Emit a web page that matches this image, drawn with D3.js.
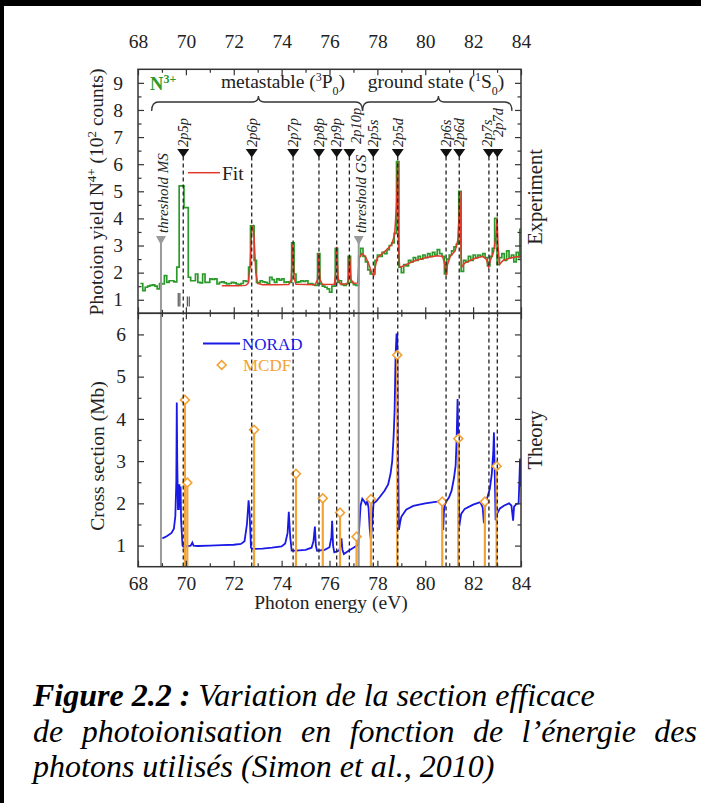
<!DOCTYPE html>
<html><head><meta charset="utf-8">
<script src="https://cdn.jsdelivr.net/npm/d3@7"></script>
<style>
html,body{margin:0;padding:0;background:#fff;}
svg{display:block;}
text{font-family:"Liberation Serif","Times New Roman",serif;}
</style></head><body>
<svg id="chart" width="701" height="803"></svg>
<script>
// ---------------- DATA ----------------
const xTickValues = [68,70,72,74,76,78,80,82,84];
const yTicksExperiment = [1,2,3,4,5,6,7,8,9];
const yTicksTheory = [1,2,3,4,5,6];

const resonanceLabels = ["2p5p","2p6p","2p7p","2p8p","2p9p","2p10p","2p5s","2p5d","2p6s","2p6d","2p7s","2p7d"];
const resonanceEnergy = [69.89,72.75,74.48,75.56,76.30,76.83,77.83,78.85,80.87,81.42,82.66,83.01];
const thresholdLabels = ["threshold MS","threshold GS"];
const thresholdEnergy = [68.96,77.22];

// experiment (step histogram): [energy, counts/100]
const experimentData = [
[68.1,1.60],[68.2,1.34],[68.3,1.46],[68.4,1.50],[68.5,1.53],[68.6,1.55],[68.7,1.50],[68.8,1.40],[68.9,1.60],[69.0,1.58],
[69.1,1.89],[69.2,1.64],[69.3,1.70],[69.4,1.70],[69.5,1.66],[69.62,2.20],[69.72,5.20],[69.92,4.40],[70.1,1.83],[70.2,1.70],
[70.3,1.70],[70.4,1.95],[70.5,1.64],[70.6,1.62],[70.7,1.95],[70.8,1.64],[70.9,1.64],[71.0,1.77],[71.1,1.75],[71.2,1.77],
[71.3,1.58],[71.4,1.64],[71.5,1.66],[71.6,1.62],[71.7,1.58],[71.8,1.60],[71.9,1.64],[72.0,1.62],[72.1,1.58],[72.2,1.56],
[72.3,1.60],[72.4,1.70],[72.5,1.68],[72.62,2.20],[72.7,3.73],[72.85,2.45],[72.95,1.64],[73.0,1.62],[73.1,1.70],[73.2,1.66],
[73.3,1.64],[73.4,1.60],[73.5,1.83],[73.6,1.74],[73.7,1.64],[73.8,1.77],[73.9,1.72],[74.0,1.77],[74.1,1.64],[74.2,1.66],
[74.3,1.64],[74.42,3.10],[74.52,1.95],[74.6,1.64],[74.7,1.66],[74.8,1.70],[74.9,1.68],[75.0,1.70],[75.1,1.58],[75.2,1.60],
[75.3,1.56],[75.4,1.53],[75.5,2.70],[75.6,1.58],[75.7,1.50],[75.8,1.46],[75.9,1.40],[76.0,1.28],[76.1,1.50],[76.24,2.90],
[76.34,1.64],[76.4,1.70],[76.5,1.56],[76.6,1.53],[76.7,1.60],[76.78,2.60],[76.88,1.64],[77.0,1.56],[77.1,1.53],[77.22,2.60],
[77.3,2.90],[77.4,2.60],[77.5,2.40],[77.6,2.10],[77.7,1.95],[77.8,1.95],[77.9,2.45],[78.0,2.65],[78.1,2.60],[78.2,2.75],
[78.3,2.70],[78.4,2.85],[78.5,3.00],[78.6,3.10],[78.7,3.45],[78.8,6.10],[78.9,2.20],[79.0,2.00],[79.1,2.30],[79.2,2.25],
[79.3,2.45],[79.4,2.40],[79.5,2.55],[79.6,2.45],[79.7,2.60],[79.8,2.50],[79.9,2.65],[80.0,2.55],[80.1,2.70],[80.2,2.60],
[80.3,2.75],[80.4,2.65],[80.5,2.85],[80.6,2.70],[80.7,2.60],[80.8,1.95],[80.9,2.50],[81.0,2.65],[81.1,2.80],[81.2,2.95],
[81.3,3.05],[81.4,5.00],[81.5,2.05],[81.6,2.45],[81.7,2.40],[81.8,2.60],[81.9,2.45],[82.0,2.65],[82.1,2.55],[82.2,2.65],
[82.3,2.60],[82.4,2.70],[82.5,2.55],[82.6,2.25],[82.7,2.60],[82.8,2.90],[82.9,4.00],[83.0,2.30],[83.1,2.55],[83.2,2.70],
[83.3,2.45],[83.4,2.80],[83.5,2.55],[83.6,2.65],[83.7,2.40],[83.8,2.75],[83.9,2.55],[83.95,3.60],[84.0,3.60]
];

// fit curve
const fitData = [
[71.5,1.52],[71.8,1.52],[72.2,1.52],[72.5,1.53],[72.6,1.60],[72.68,2.20],[72.75,3.60],[72.8,3.70],[72.85,3.30],[72.92,2.00],
[73.0,1.60],[73.2,1.55],[73.8,1.55],[74.3,1.56],[74.4,1.75],[74.46,3.05],[74.52,1.80],[74.6,1.57],[75.4,1.55],[75.5,1.75],
[75.55,2.70],[75.6,1.75],[75.7,1.56],[76.2,1.57],[76.25,1.90],[76.3,2.95],[76.36,1.80],[76.45,1.58],[76.75,1.58],[76.8,1.90],
[76.84,2.60],[76.9,1.75],[77.0,1.60],[77.18,1.62],[77.24,2.55],[77.35,2.70],[77.5,2.60],[77.65,2.30],[77.78,1.95],[77.85,1.90],
[77.92,2.25],[78.0,2.55],[78.2,2.70],[78.4,2.85],[78.6,3.05],[78.72,3.40],[78.8,4.50],[78.85,6.10],[78.88,3.00],[78.93,2.20],
[79.1,2.25],[79.5,2.42],[80.0,2.55],[80.5,2.62],[80.72,2.60],[80.82,2.30],[80.87,1.90],[80.93,2.30],[81.05,2.60],[81.25,2.80],
[81.36,3.20],[81.42,4.20],[81.45,5.00],[81.48,3.20],[81.52,2.20],[81.65,2.35],[82.0,2.50],[82.4,2.60],[82.55,2.50],[82.65,2.20],
[82.72,2.45],[82.85,2.75],[82.95,3.30],[83.0,4.00],[83.04,3.00],[83.1,2.30],[83.25,2.45],[83.6,2.55],[84.0,2.60]
];

// NORAD theory (Mb)
const noradData = [
[69.02,1.17],[69.2,1.22],[69.4,1.30],[69.5,1.40],[69.56,1.70],[69.6,2.50],[69.62,4.39],[69.64,3.00],[69.67,1.84],[69.69,2.45],
[69.71,1.84],[69.73,2.45],[69.75,1.90],[69.78,2.40],[69.8,1.60],[69.86,1.00],[69.9,0.97],[70.0,0.98],[70.2,1.00],[70.27,1.07],
[70.32,1.00],[70.5,0.99],[71.0,1.00],[71.5,1.01],[72.0,1.02],[72.3,1.04],[72.45,1.10],[72.55,1.50],[72.62,2.07],[72.66,1.80],
[72.72,0.95],[72.8,0.92],[73.2,0.93],[73.6,0.95],[74.0,0.98],[74.15,1.05],[74.25,1.30],[74.3,1.80],[74.36,1.20],[74.42,0.88],
[74.6,0.88],[75.0,0.90],[75.25,0.95],[75.33,1.10],[75.39,1.45],[75.43,1.00],[75.48,0.88],[75.8,0.90],[76.0,0.96],[76.08,1.20],
[76.11,1.59],[76.15,1.00],[76.2,0.84],[76.4,0.88],[76.47,1.00],[76.5,1.17],[76.54,0.90],[76.6,0.80],[76.8,0.88],[77.0,0.95],
[77.2,1.02],[77.25,1.50],[77.3,1.95],[77.37,2.11],[77.45,2.05],[77.52,1.98],[77.58,2.05],[77.63,1.90],[77.68,1.40],[77.73,1.13],
[77.78,1.50],[77.84,2.00],[77.95,2.05],[78.1,2.15],[78.3,2.30],[78.45,2.45],[78.55,2.70],[78.62,3.00],[78.68,3.60],[78.72,4.20],
[78.76,5.50],[78.8,6.00],[78.83,6.00],[78.87,3.00],[78.9,1.37],[78.95,1.55],[79.0,1.68],[79.2,1.85],[79.5,1.94],[80.0,2.00],
[80.5,2.04],[80.68,2.06],[80.72,1.90],[80.75,1.37],[80.78,1.80],[80.83,2.00],[81.0,2.15],[81.1,2.30],[81.2,2.60],[81.27,2.90],
[81.31,3.50],[81.35,4.47],[81.38,3.50],[81.42,1.45],[81.5,1.75],[81.65,1.87],[82.0,1.97],[82.3,2.03],[82.4,1.90],[82.45,1.53],
[82.5,1.90],[82.55,2.05],[82.7,2.35],[82.78,2.70],[82.84,3.20],[82.87,3.68],[82.9,2.80],[82.94,1.60],[83.0,1.75],[83.12,1.88],
[83.3,1.95],[83.5,2.00],[83.6,1.95],[83.67,1.59],[83.71,1.92],[83.8,1.98],[83.9,2.00],[83.93,2.50],[83.96,3.06],[83.98,2.60],[84.0,2.40]
];

// MCDF theory (stems)
const mcdfEnergy = [69.96,70.06,72.85,74.60,75.72,76.44,77.13,77.73,78.83,80.71,81.38,82.49,82.98];
const mcdfValue  = [4.45,2.49,3.74,2.70,2.12,1.78,1.21,2.10,5.51,2.04,3.53,2.04,2.88];

// short marker lines near 2p5p
const markerEnergy = [69.68,69.75,70.06,70.14];
const markerTop = [1.25,1.25,1.12,1.12];

// ---------------- LAYOUT ----------------
const W=701,H=803;
const X0=138, X1=521, YT=69.3, YM=313.3, YB=566.7;
const FONT='"Liberation Serif","Times New Roman",serif';
const C = {green:"#2b9a2b", red:"#e03a2a", blue:"#1a1ae6", orange:"#f3a236", gray:"#9a9a9a", axis:"#333", text:"#222"};

const svg = d3.select("#chart");
const x = d3.scaleLinear().domain([68,84]).range([X0,X1]);
const yU = d3.scaleLinear().domain([0.5,9.5]).range([YM,YT]);
const yL = d3.scaleLinear().domain([0.5,6.5]).range([YB,YM]);
const intFmt = d3.format("d");

// page frame (top and left edges)
svg.append("rect").attr("x",0).attr("y",0).attr("width",W).attr("height",6).attr("fill","#000");
svg.append("rect").attr("x",0).attr("y",0).attr("width",4).attr("height",H).attr("fill","#000");

// clip paths
const defs = svg.append("defs");
defs.append("clipPath").attr("id","clipU").append("rect").attr("x",X0).attr("y",YT).attr("width",X1-X0).attr("height",YM-YT);
defs.append("clipPath").attr("id","clipL").append("rect").attr("x",X0).attr("y",YM).attr("width",X1-X0).attr("height",YB-YM);

// ---- data layers: upper ----
const gU = svg.append("g").attr("clip-path","url(#clipU)");
gU.append("path").datum(experimentData)
  .attr("d", d3.line().x(d=>x(d[0])).y(d=>yU(d[1])).curve(d3.curveStepAfter))
  .attr("fill","none").attr("stroke",C.green).attr("stroke-width",1.7);
gU.append("path").datum(fitData)
  .attr("d", d3.line().x(d=>x(d[0])).y(d=>yU(d[1])))
  .attr("fill","none").attr("stroke",C.red).attr("stroke-width",1.5);
gU.selectAll("line.mk").data(markerEnergy).enter().append("line")
  .attr("x1",d=>x(d)).attr("x2",d=>x(d)).attr("y1",(d,i)=>yU(markerTop[i])).attr("y2",yU(0.75))
  .attr("stroke","#333").attr("stroke-width",1);

// ---- data layers: lower ----
const gL = svg.append("g").attr("clip-path","url(#clipL)");
gL.append("path").datum(noradData)
  .attr("d", d3.line().x(d=>x(d[0])).y(d=>yL(d[1])))
  .attr("fill","none").attr("stroke",C.blue).attr("stroke-width",1.8);
gL.selectAll("line.stem").data(mcdfEnergy).enter().append("line")
  .attr("x1",d=>x(d)).attr("x2",d=>x(d)).attr("y1",yL(0.5)).attr("y2",(d,i)=>yL(mcdfValue[i]))
  .attr("stroke",C.orange).attr("stroke-width",2.2);

// threshold gray lines
const triU=149, triD=156.5;
thresholdEnergy.forEach((e,i)=>{
  svg.append("line").attr("x1",x(e)).attr("x2",x(e)).attr("y1",240).attr("y2",YB)
    .attr("stroke",C.gray).attr("stroke-width",2);
  svg.append("path").attr("d",`M${x(e)-5},236L${x(e)+5},236L${x(e)},245Z`).attr("fill",C.gray);
});

// dashed resonance lines
resonanceEnergy.forEach(e=>{
  svg.append("line").attr("x1",x(e)).attr("x2",x(e)).attr("y1",triD).attr("y2",YB)
    .attr("stroke","#222").attr("stroke-width",1.3).attr("stroke-dasharray","4,3");
  svg.append("path").attr("d",`M${x(e)-6},${triU}L${x(e)+6},${triU}L${x(e)},${triD+1}Z`).attr("fill","#111");
});

// MCDF diamonds
gL.selectAll("path.dia").data(mcdfEnergy).enter().append("path")
  .attr("d", d3.symbol().type(d3.symbolSquare).size(40))
  .attr("transform",(d,i)=>`translate(${x(d)},${yL(mcdfValue[i])}) rotate(45)`)
  .attr("fill","#fff").attr("stroke",C.orange).attr("stroke-width",1.6);

// ---- frames ----
[[YT,YM],[YM,YB]].forEach(([a,b])=>{
  svg.append("rect").attr("x",X0).attr("y",a).attr("width",X1-X0).attr("height",b-a)
    .attr("fill","none").attr("stroke",C.axis).attr("stroke-width",1.5);
});

// ---- axes ----
function addAxis(axisFn, scale, transform, vals, len, showLabels, pad, size){
  const a = axisFn(scale).tickValues(vals).tickSize(-len).tickPadding(pad);
  a.tickFormat(showLabels ? intFmt : ()=>"");
  const g = svg.append("g").attr("transform",transform).call(a);
  g.select(".domain").remove();
  g.selectAll("line").attr("stroke",C.axis).attr("stroke-width",1.2);
  g.selectAll("text").attr("font-family",FONT).attr("font-size",size||19.5).attr("fill",C.text);
  return g;
}
const xMinor = d3.range(69,84,2);
// top of upper panel
addAxis(d3.axisTop, x, `translate(0,${YT})`, xTickValues, 6, true, 21);
addAxis(d3.axisTop, x, `translate(0,${YT})`, xMinor, 3.5, false, 0);
// bottom of upper panel
addAxis(d3.axisBottom, x, `translate(0,${YM})`, xTickValues, 6, false, 0);
addAxis(d3.axisBottom, x, `translate(0,${YM})`, xMinor, 3.5, false, 0);
// top of lower panel
addAxis(d3.axisTop, x, `translate(0,${YM})`, xTickValues, 6, false, 0);
addAxis(d3.axisTop, x, `translate(0,${YM})`, xMinor, 3.5, false, 0);
// bottom of lower panel
addAxis(d3.axisBottom, x, `translate(0,${YB})`, xTickValues, 6, true, 9);
addAxis(d3.axisBottom, x, `translate(0,${YB})`, xMinor, 3.5, false, 0);
// y axes upper
addAxis(d3.axisLeft, yU, `translate(${X0},0)`, yTicksExperiment, 6, true, 15);
addAxis(d3.axisLeft, yU, `translate(${X0},0)`, d3.range(1.5,9.5,1), 3.5, false, 0);
addAxis(d3.axisRight, yU, `translate(${X1},0)`, yTicksExperiment, 6, false, 0);
addAxis(d3.axisRight, yU, `translate(${X1},0)`, d3.range(1.5,9.5,1), 3.5, false, 0);
// y axes lower
addAxis(d3.axisLeft, yL, `translate(${X0},0)`, yTicksTheory, 6, true, 12);
addAxis(d3.axisLeft, yL, `translate(${X0},0)`, d3.range(1.5,6.5,1), 3.5, false, 0);
addAxis(d3.axisRight, yL, `translate(${X1},0)`, yTicksTheory, 6, false, 0);
addAxis(d3.axisRight, yL, `translate(${X1},0)`, d3.range(1.5,6.5,1), 3.5, false, 0);

// ---- axis titles ----
const yt1 = svg.append("text").attr("transform",`translate(103,192) rotate(-90)`)
  .attr("text-anchor","middle").attr("font-size",19.5).attr("fill",C.text);
yt1.append("tspan").text("Photoion yield N");
yt1.append("tspan").attr("baseline-shift","super").attr("font-size",13).text("4+");
yt1.append("tspan").text(" (10");
yt1.append("tspan").attr("baseline-shift","super").attr("font-size",13).text("2");
yt1.append("tspan").text(" counts)");
svg.append("text").attr("transform",`translate(104,456) rotate(-90)`)
  .attr("text-anchor","middle").attr("font-size",19.5).attr("fill",C.text).text("Cross section (Mb)");
svg.append("text").attr("x",331).attr("y",609).attr("text-anchor","middle")
  .attr("font-size",19.5).attr("fill",C.text).text("Photon energy (eV)");
svg.append("text").attr("transform",`translate(542,197) rotate(-90)`)
  .attr("text-anchor","middle").attr("font-size",20.5).attr("fill",C.text).text("Experiment");
svg.append("text").attr("transform",`translate(542,440) rotate(-90)`)
  .attr("text-anchor","middle").attr("font-size",20.5).attr("fill",C.text).text("Theory");

// ---- state annotations ----
const nt = svg.append("text").attr("x",150).attr("y",90).attr("font-size",18.5).attr("font-weight","bold").attr("fill",C.green);
nt.append("tspan").text("N");
nt.append("tspan").attr("baseline-shift","super").attr("font-size",12).text("3+");

const mt = svg.append("text").attr("x",283).attr("y",88).attr("text-anchor","middle").attr("font-size",19.5).attr("fill",C.text);
mt.append("tspan").text("metastable (");
mt.append("tspan").attr("baseline-shift","super").attr("font-size",12).text("3");
mt.append("tspan").text("P");
mt.append("tspan").attr("baseline-shift","sub").attr("font-size",12).text("0");
mt.append("tspan").text(")");
const gt = svg.append("text").attr("x",436).attr("y",88).attr("text-anchor","middle").attr("font-size",19.5).attr("fill",C.text);
gt.append("tspan").text("ground state (");
gt.append("tspan").attr("baseline-shift","super").attr("font-size",12).text("1");
gt.append("tspan").text("S");
gt.append("tspan").attr("baseline-shift","sub").attr("font-size",12).text("0");
gt.append("tspan").text(")");

function brace(e1, em, e2, y0){
  const x1=x(e1), xm=x(em), x2=x(e2);
  return `M${x1},${y0+9} Q${x1},${y0} ${x1+7},${y0} L${xm-6},${y0} Q${xm},${y0} ${xm},${y0-6} Q${xm},${y0} ${xm+6},${y0} L${x2-7},${y0} Q${x2},${y0} ${x2},${y0+9}`;
}
svg.append("path").attr("d",brace(68.57,73.03,77.38,102)).attr("fill","none").attr("stroke","#333").attr("stroke-width",1.3);
svg.append("path").attr("d",brace(77.38,80.55,83.62,102)).attr("fill","none").attr("stroke","#333").attr("stroke-width",1.3);

// ---- resonance labels ----
const labelShift = {"2p10p":{dx:7,dy:-3},"2p7d":{dx:1,dy:-10},"2p7s":{dx:-2,dy:0}};
resonanceLabels.forEach((lab,i)=>{
  const s = labelShift[lab]||{dx:0,dy:0};
  svg.append("text").attr("transform",`translate(${x(resonanceEnergy[i])+s.dx},${147+s.dy}) rotate(-90)`)
    .attr("dy","0.33em").attr("font-size",14.5).attr("font-style","italic").attr("fill",C.text).text(lab);
});
thresholdLabels.forEach((lab,i)=>{
  svg.append("text").attr("transform",`translate(${x(thresholdEnergy[i])+2},233) rotate(-90)`)
    .attr("dy","0.33em").attr("font-size",15).attr("font-style","italic").attr("fill",C.text).text(lab);
});

// ---- legends ----
svg.append("line").attr("x1",188).attr("x2",220).attr("y1",172.7).attr("y2",172.7).attr("stroke",C.red).attr("stroke-width",1.5);
svg.append("text").attr("x",222).attr("y",179.5).attr("font-size",19.5).attr("fill",C.text).text("Fit");
svg.append("line").attr("x1",203).attr("x2",240).attr("y1",343.5).attr("y2",343.5).attr("stroke",C.blue).attr("stroke-width",1.8);
svg.append("text").attr("x",242).attr("y",349.5).attr("font-size",17).attr("fill",C.blue).text("NORAD");
svg.append("path").attr("d", d3.symbol().type(d3.symbolSquare).size(40)).attr("transform","translate(221.7,365) rotate(45)")
  .attr("fill","#fff").attr("stroke",C.orange).attr("stroke-width",1.6);
svg.append("text").attr("x",243).attr("y",371).attr("font-size",17).attr("fill",C.orange).text("MCDF");

// ---- caption ----
const capSize = 32, capX = 33, capR = 697;
const c1 = svg.append("text").attr("x",capX).attr("y",706).attr("font-size",capSize).attr("font-style","italic").attr("fill","#000");
c1.append("tspan").attr("font-weight","bold").text("Figure 2.2 :");
c1.append("tspan").text(" Variation de la section efficace");
const words2 = ["de","photoionisation","en","fonction","de","l’énergie","des"];
const tmp = svg.append("text").attr("font-size",capSize).attr("font-style","italic").attr("visibility","hidden");
const widths = words2.map(w=>{ tmp.text(w); return tmp.node().getComputedTextLength(); });
tmp.remove();
const gap = (capR-capX-d3.sum(widths))/(words2.length-1);
let cx = capX;
const c2 = svg.append("text").attr("y",742).attr("font-size",capSize).attr("font-style","italic").attr("fill","#000");
words2.forEach((w,i)=>{ c2.append("tspan").attr("x",cx).text(w); cx += widths[i]+gap; });
svg.append("text").attr("x",capX).attr("y",777).attr("font-size",capSize).attr("font-style","italic").attr("fill","#000")
  .text("photons utilisés (Simon et al., 2010)");
</script>
</body></html>
